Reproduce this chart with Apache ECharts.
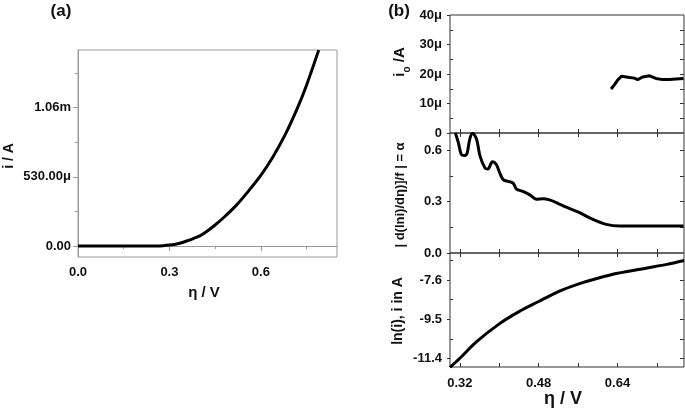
<!DOCTYPE html>
<html>
<head>
<meta charset="utf-8">
<script src="https://cdn.jsdelivr.net/npm/echarts@6/dist/echarts.min.js"></script>
<style>html,body{margin:0;padding:0;background:#fff;}#c{width:685px;height:416px;}</style>
</head>
<body>
<div id="c"></div>
<script>
// ---------- Panel (a): i vs eta ----------
var aEta = [0.00,0.05,0.10,0.15,0.20,0.25,0.28,0.30,0.32,0.34,0.36,0.38,0.40,0.42,0.45,0.48,0.52,0.56,0.60,0.64,0.68,0.72,0.75,0.79];
var aCurrent = [0,0,0,0,0,1e-6,3e-6,7e-6,14e-6,25e-6,41e-6,59e-6,78e-6,107e-6,161e-6,222e-6,313e-6,422e-6,540e-6,683e-6,852e-6,1055e-6,1231e-6,1499e-6];
var aXTicks = [0, 0.3, 0.6];
var aXMinor = [0.15, 0.45, 0.75];
var aYTicks = [0, 530e-6, 1060e-6];
var aYTickLabels = ['0.00', '530.00\u03bc', '1.06m'];
var aYMinor = [265e-6, 795e-6, 1325e-6];

// ---------- Panel (b) ----------
var bXTicks = [0.32, 0.40, 0.48, 0.56, 0.64, 0.72];
var bXLabels = [0.32, 0.48, 0.64];

// top: exchange current i0
var i0Eta = [0.627,0.634,0.641,0.648,0.661,0.674,0.681,0.691,0.705,0.718,0.732,0.745,0.759,0.774];
var i0Val = [14.9e-6,16.4e-6,18.1e-6,19.2e-6,18.9e-6,18.6e-6,18.1e-6,19.0e-6,19.4e-6,18.5e-6,18.1e-6,18.1e-6,18.3e-6,18.5e-6];
var i0Ticks = [0, 10e-6, 20e-6, 30e-6, 40e-6];
var i0Minor = [5e-6, 15e-6, 25e-6, 35e-6];

// middle: alpha
var alphaEta = [0.311,0.317,0.323,0.330,0.335,0.340,0.346,0.354,0.361,0.371,0.377,0.386,0.394,0.401,0.408,0.418,0.428,0.435,0.448,0.462,0.475,0.489,0.502,0.516,0.536,0.563,0.590,0.617,0.644,0.698,0.774];
var alphaVal = [0.70,0.643,0.575,0.569,0.585,0.663,0.698,0.663,0.565,0.496,0.490,0.532,0.516,0.467,0.428,0.418,0.408,0.373,0.359,0.339,0.314,0.316,0.310,0.294,0.267,0.235,0.196,0.167,0.157,0.157,0.157];
var alphaTicks = [0, 0.3, 0.6];
var alphaMinor = [0.15, 0.45];

// bottom: ln(i)
var lnEta = [0.300,0.320,0.354,0.400,0.440,0.480,0.520,0.560,0.600,0.640,0.700,0.740,0.775];
var lnVal = [-11.82,-11.38,-10.58,-9.72,-9.13,-8.64,-8.16,-7.80,-7.52,-7.28,-7.02,-6.85,-6.66];
var lnTicks = [-11.4, -9.5, -7.6];
var lnMinor = [-10.45, -8.55, -6.65];

function pairs(xs, ys){ return xs.map(function(x,i){ return [x, ys[i]]; }); }

var FONT = 'Liberation Sans, Arial, sans-serif';
var lblStyle = { fontFamily: FONT, fontWeight: 'bold', fontSize: 13, color: '#111' };
var gridsB = [
  { left: 450, top: 15, width: 234, height: 118 },
  { left: 450, top: 133, width: 234, height: 120 },
  { left: 450, top: 253, width: 234, height: 114 }
];
var grids = [{ left: 78, top: 50, width: 259, height: 207, show: true, borderColor: '#9a9a9a', borderWidth: 1 }]
  .concat(gridsB.map(function(g){ return Object.assign({ show: true, borderColor: '#333', borderWidth: 1 }, g); }));
grids.forEach(function(g){ g.containLabel = false; g.outerBoundsMode = 'none'; });

var xAxes = [], yAxes = [];
// Panel a axes
xAxes.push({ gridIndex: 0, type: 'value', min: 0, max: 0.85, position: 'bottom',
  axisLine: { show: true, lineStyle: { color: '#9a9a9a' } }, splitLine: { show: false },
  axisTick: { show: true, customValues: aXTicks, length: 5, lineStyle: { color: '#9a9a9a' } },
  axisLabel: { customValues: aXTicks, formatter: function(v){ return v.toFixed(1); }, margin: 9, ...lblStyle } });
xAxes.push({ gridIndex: 0, type: 'value', min: 0, max: 0.85, position: 'bottom',
  axisLine: { show: false }, splitLine: { show: false },
  axisTick: { show: true, customValues: aXMinor, length: 3, lineStyle: { color: '#9a9a9a' } },
  axisLabel: { show: false } });
yAxes.push({ gridIndex: 0, type: 'value', min: -84e-6, max: 1.5e-3, position: 'left',
  axisLine: { show: true, lineStyle: { color: '#9a9a9a' } }, splitLine: { show: false },
  axisTick: { show: true, customValues: aYTicks, length: 5, lineStyle: { color: '#9a9a9a' } },
  axisLabel: { customValues: aYTicks, formatter: function(v){ var i = aYTicks.findIndex(function(t){ return Math.abs(t - v) < 1e-9; }); return i >= 0 ? aYTickLabels[i] : ''; }, margin: 7, ...lblStyle } });
yAxes.push({ gridIndex: 0, type: 'value', min: -84e-6, max: 1.5e-3, position: 'left',
  axisLine: { show: false }, splitLine: { show: false },
  axisTick: { show: true, customValues: aYMinor, length: 3, lineStyle: { color: '#9a9a9a' } },
  axisLabel: { show: false } });

// Panel b axes
var bY = [
  { min: 0, max: 40e-6, ticks: i0Ticks, minor: i0Minor, fmt: function(v){ return v === 0 ? '0' : Math.round(v * 1e6) + '\u03bc'; } },
  { min: 0, max: 0.7, ticks: alphaTicks, minor: alphaMinor, fmt: function(v){ return v.toFixed(1); } },
  { min: -11.8, max: -6.3, ticks: lnTicks, minor: lnMinor, fmt: function(v){ return v.toFixed(1); } }
];
var tickCol = '#333';
for (var k = 0; k < 3; k++) {
  var gi = k + 1;
  xAxes.push({ gridIndex: gi, type: 'value', min: 0.30, max: 0.775, position: 'bottom',
    axisLine: { show: false }, splitLine: { show: false },
    axisTick: { show: true, inside: true, customValues: bXTicks, length: 4, lineStyle: { color: tickCol } },
    axisLabel: k === 2 ? { customValues: bXLabels, formatter: function(v){ return v.toFixed(2); }, margin: 10, ...lblStyle } : { show: false } });
  xAxes.push({ gridIndex: gi, type: 'value', min: 0.30, max: 0.775, position: 'top',
    axisLine: { show: false }, splitLine: { show: false },
    axisTick: { show: true, inside: true, customValues: bXTicks, length: 4, lineStyle: { color: tickCol } },
    axisLabel: { show: false } });
  var c = bY[k];
  yAxes.push({ gridIndex: gi, type: 'value', min: c.min, max: c.max, position: 'left',
    axisLine: { show: false }, splitLine: { show: false },
    axisTick: { show: true, inside: false, customValues: c.ticks, length: 3, lineStyle: { color: tickCol } },
    axisLabel: { customValues: c.ticks, formatter: c.fmt, margin: 8, ...lblStyle } });
  yAxes.push({ gridIndex: gi, type: 'value', min: c.min, max: c.max, position: 'left',
    axisLine: { show: false }, splitLine: { show: false },
    axisTick: { show: true, inside: true, customValues: c.minor, length: 3, lineStyle: { color: tickCol } },
    axisLabel: { show: false } });
  yAxes.push({ gridIndex: gi, type: 'value', min: c.min, max: c.max, position: 'right',
    axisLine: { show: false }, splitLine: { show: false },
    axisTick: { show: true, inside: true, customValues: c.ticks.concat(c.minor).filter(function(v){ return v > c.min && v < c.max; }), length: 4, lineStyle: { color: tickCol } },
    axisLabel: { show: false } });
}

var lineStyle = { color: '#000', width: 3 };
var series = [
  { type: 'line', xAxisIndex: 0, yAxisIndex: 0, data: pairs(aEta, aCurrent), showSymbol: false, smooth: 0.3, lineStyle: lineStyle },
  { type: 'line', xAxisIndex: 2, yAxisIndex: 2, data: pairs(i0Eta, i0Val), showSymbol: false, lineStyle: lineStyle },
  { type: 'line', xAxisIndex: 4, yAxisIndex: 5, data: pairs(alphaEta, alphaVal), showSymbol: false, smooth: 0.3, lineStyle: lineStyle },
  { type: 'line', xAxisIndex: 6, yAxisIndex: 8, data: pairs(lnEta, lnVal), showSymbol: false, smooth: 0.3, lineStyle: lineStyle }
];

function txt(x, y, text, size, rot, extra) {
  return { type: 'text', x: x, y: y, rotation: rot || 0,
    style: Object.assign({ text: text, fontFamily: FONT, fontWeight: 'bold', fontSize: size, fill: '#111', align: 'center', verticalAlign: 'middle' }, extra || {}) };
}
var graphics = [
  txt(61, 11, '(a)', 17),
  txt(399, 11, '(b)', 17),
  txt(204, 293, '\u03b7 / V', 15),
  txt(9, 156, 'i / A', 14, Math.PI / 2),
  txt(563, 399, '\u03b7 / V', 18),
  txt(400, 62, '{m|i}{s|o}{m| /A}', 15, Math.PI / 2, { rich: {
    m: { fontFamily: FONT, fontWeight: 'bold', fontSize: 15, fill: '#111', lineHeight: 24, verticalAlign: 'middle' },
    s: { fontFamily: FONT, fontWeight: 'bold', fontSize: 10, fill: '#111', lineHeight: 24, verticalAlign: 'bottom' } } }),
  txt(400, 195, '| d(lni)/d\u03b7)]/f | = \u03b1', 13, Math.PI / 2),
  txt(398, 311, 'ln(i), i in A', 14, Math.PI / 2)
];

var chart = echarts.init(document.getElementById('c'), null, { renderer: 'canvas' });
chart.setOption({
  animation: false,
  backgroundColor: '#fff',
  grid: grids,
  xAxis: xAxes,
  yAxis: yAxes,
  series: series,
  graphic: graphics
});
</script>
</body>
</html>
